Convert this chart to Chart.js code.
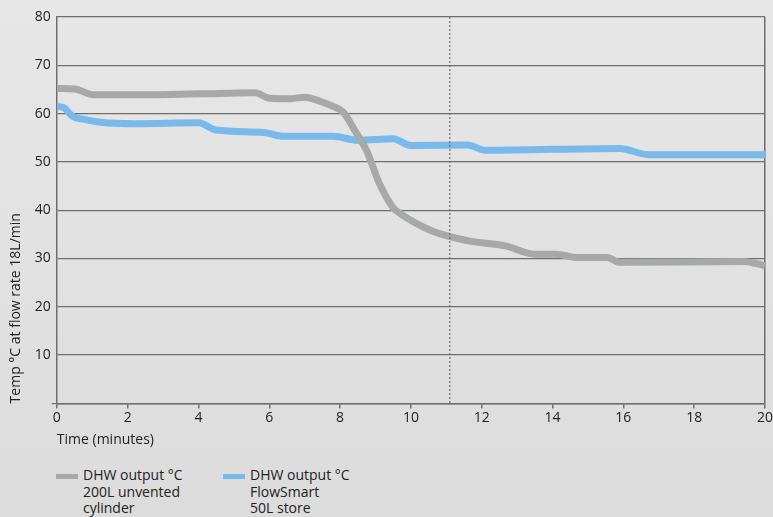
<!DOCTYPE html>
<html>
<head>
<meta charset="utf-8">
<script src="https://cdn.jsdelivr.net/npm/chart.js@4.4.1/dist/chart.umd.min.js"></script>
<style>
  html, body { margin: 0; padding: 0; }
  body {
    width: 773px; height: 517px; overflow: hidden; position: relative;
    background: linear-gradient(#e7e7e7, #dcdcdc);
    font-family: "Open Sans", sans-serif;
  }
  #wrap { position: absolute; left: 0; top: 0; width: 773px; height: 448px; }
  #legend { position: absolute; left: 56px; top: 467px; display: flex; }
  .item { display: flex; align-items: flex-start; width: 167px; }
  .box { width: 22px; height: 5px; margin-top: 7px; margin-right: 5px; flex: none; }
  .txt { font-size: 14px; line-height: 16.5px; color: #222; }
</style>
</head>
<body>
<div id="wrap"><canvas id="chart"></canvas></div>
<div id="legend"></div>
<script>
// 200L unvented cylinder
var grayTimes = [0, 0.5, 1.05, 2, 4, 5.6, 6.0, 6.6, 7.0, 7.45, 7.8, 8.1, 8.4, 8.77, 9.1, 9.5, 9.7, 10.6, 11.6, 12.67, 13.5, 14.1, 14.7, 15.55, 15.9, 19.4, 20];
var grayTemps = [65.2, 65.1, 63.9, 63.9, 64.1, 64.3, 63.2, 63.1, 63.4, 62.5, 61.5, 60.2, 56.7, 52, 45.7, 40.5, 39.3, 35.7, 33.7, 32.6, 30.9, 30.9, 30.2, 30.2, 29.2, 29.4, 28.5];

// FlowSmart 50L store
var blueTimes = [0, 0.2, 0.45, 0.77, 1.24, 2.2, 4.0, 4.5, 5.85, 6.4, 7.8, 8.5, 9.5, 10.0, 11.6, 12.1, 15.9, 16.7, 20];
var blueTemps = [61.5, 61.2, 59.4, 58.8, 58.2, 57.9, 58.1, 56.6, 56.1, 55.3, 55.3, 54.5, 54.8, 53.4, 53.5, 52.4, 52.8, 51.5, 51.5];

var seriesLabels = [
  ["DHW output °C", "200L unvented", "cylinder"],
  ["DHW output °C", "FlowSmart", "50L store"]
];
var seriesColors = ["#a7a8aa", "#77baeb"];

var xTicks = [0, 2, 4, 6, 8, 10, 12, 14, 16, 18, 20];
var yTicks = [0, 10, 20, 30, 40, 50, 60, 70, 80];
var markerTime = 11.1;

function toPoints(xs, ys) {
  var out = [];
  for (var i = 0; i < xs.length; i++) out.push({ x: xs[i], y: ys[i] });
  return out;
}

// 点線の縦線
var markerLine = {
  id: "markerLine",
  afterDatasetsDraw: function (chart) {
    var x = chart.scales.x.getPixelForValue(markerTime);
    var area = chart.chartArea;
    var ctx = chart.ctx;
    ctx.save();
    ctx.strokeStyle = "#555";
    ctx.lineWidth = 1;
    ctx.setLineDash([2, 2]);
    ctx.beginPath();
    ctx.moveTo(x, area.top);
    ctx.lineTo(x, area.bottom);
    ctx.stroke();
    ctx.restore();
  }
};

var font = { family: "'Open Sans', sans-serif", size: 14 };

var chart = new Chart(document.getElementById("chart"), {
  type: "line",
  data: {
    datasets: [
      {
        label: seriesLabels[0].join(" "),
        data: toPoints(grayTimes, grayTemps),
        borderColor: seriesColors[0],
        borderWidth: 7,
        pointRadius: 0,
        cubicInterpolationMode: "monotone"
      },
      {
        label: seriesLabels[1].join(" "),
        data: toPoints(blueTimes, blueTemps),
        borderColor: seriesColors[1],
        borderWidth: 7,
        pointRadius: 0,
        cubicInterpolationMode: "monotone"
      }
    ]
  },
  options: {
    responsive: true,
    maintainAspectRatio: false,
    animation: false,
    layout: { padding: { top: 17, left: 8, right: 8, bottom: 0 } },
    plugins: { legend: { display: false }, tooltip: { enabled: false } },
    scales: {
      x: {
        type: "linear",
        min: 0,
        max: 20,
        afterBuildTicks: function (s) { s.ticks = xTicks.map(function (v) { return { value: v }; }); },
        afterFit: function (s) { s.paddingRight = 0; s.paddingLeft = 0; },
        ticks: { color: "#222", font: font, padding: 1, maxRotation: 0 },
        grid: {
          color: function (c) { return c.tick && c.tick.value === 20 ? "#6e6e6e" : "rgba(0,0,0,0)"; },
          tickColor: "#6e6e6e",
          tickLength: 5,
          lineWidth: 1.5
        },
        border: { color: "#6e6e6e", width: 1.5 },
        title: { display: true, text: "Time (minutes)", align: "start", color: "#222", font: font, padding: { top: 4, bottom: 0 } }
      },
      y: {
        min: 0,
        max: 80,
        afterBuildTicks: function (s) { s.ticks = yTicks.map(function (v) { return { value: v }; }); },
        afterFit: function (s) { s.paddingTop = 0; },
        ticks: {
          color: "#222",
          font: font,
          padding: 1,
          callback: function (v) { return v === 0 ? "" : v; }
        },
        grid: {
          color: "#6e6e6e",
          tickColor: function (c) { return c.tick && c.tick.value === 0 ? "#6e6e6e" : "rgba(0,0,0,0)"; },
          tickLength: 5,
          lineWidth: 1.2
        },
        border: { color: "#6e6e6e", width: 1.5 },
        title: { display: true, text: "Temp °C at flow rate 18L/min", align: "start", color: "#222", font: font, padding: { top: 0, bottom: 9 } }
      }
    }
  },
  plugins: [markerLine]
});

// 凡例
var legend = document.getElementById("legend");
chart.data.datasets.forEach(function (ds, i) {
  var item = document.createElement("div");
  item.className = "item";
  var box = document.createElement("div");
  box.className = "box";
  box.style.background = ds.borderColor;
  var txt = document.createElement("div");
  txt.className = "txt";
  txt.innerHTML = seriesLabels[i].join("<br>");
  item.appendChild(box);
  item.appendChild(txt);
  legend.appendChild(item);
});
</script>
</body>
</html>
